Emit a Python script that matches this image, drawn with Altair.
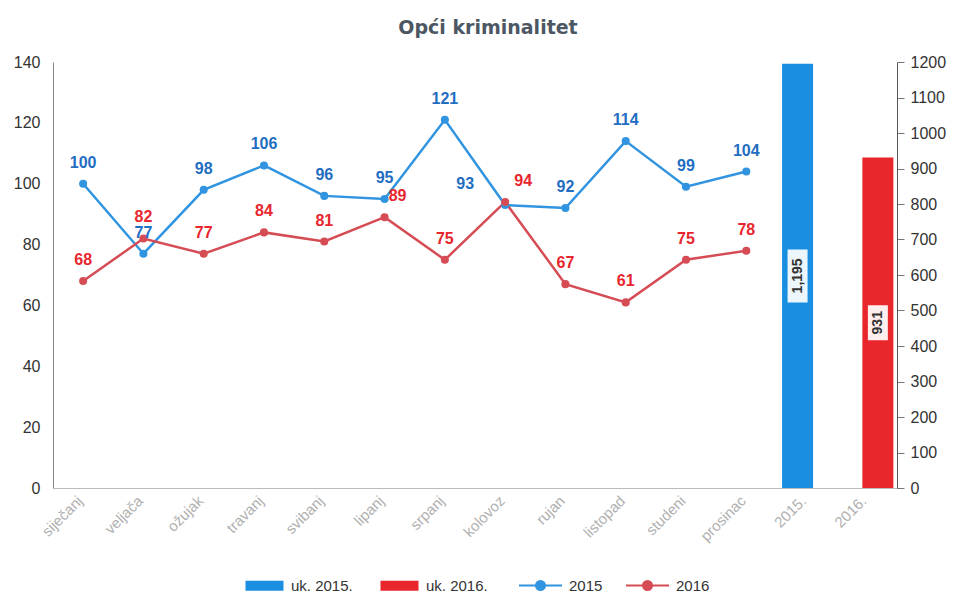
import altair as alt
import pandas as pd

months = ["siječanj", "veljača", "ožujak", "travanj", "svibanj", "lipanj",
          "srpanj", "kolovoz", "rujan", "listopad", "studeni", "prosinac"]
v2015 = [100, 77, 98, 106, 96, 95, 121, 93, 92, 114, 99, 104]
v2016 = [68, 82, 77, 84, 81, 89, 75, 94, 67, 61, 75, 78]
total_cats = ["2015.", "2016."]
total_series = ["uk. 2015.", "uk. 2016."]
totals = [1195, 931]

domain = months + total_cats
FONT = "Liberation Sans"

# label nudges (style only): (series, month) -> dx
nudges = {("2015", "kolovoz"): -40, ("2016", "kolovoz"): 18, ("2016", "lipanj"): 13}

lines_df = pd.DataFrame(
    [{"cat": m, "value": v, "series": "2015"} for m, v in zip(months, v2015)]
    + [{"cat": m, "value": v, "series": "2016"} for m, v in zip(months, v2016)]
)
lines_df["nudge"] = [nudges.get((s, c), 0) for s, c in zip(lines_df["series"], lines_df["cat"])]
bars_df = pd.DataFrame({"cat": total_cats, "total": totals, "series": total_series})

xscale = alt.Scale(domain=domain, paddingInner=0, paddingOuter=0)
xaxis = alt.Axis(title=None, labelAngle=-45, labelAlign="right", labelBaseline="middle",
                 labelColor="#b0b0b0", labelFontSize=15, labelOffset=-3,
                 labelFont=FONT, ticks=False, domainColor="#bbbbbb", labelPadding=10)
X = alt.X("cat:N", scale=xscale, sort=domain, axis=xaxis)

line_col = alt.Scale(domain=["2015", "2016"], range=["#3094e0", "#d64c55"])
text_col = alt.Scale(domain=["2015", "2016"], range=["#1f6ec2", "#e8262e"])
line_sym = ("M-4.3,0H4.3 "
            "M0.9,0A0.9,0.9 0 1,1 -0.9,0A0.9,0.9 0 1,1 0.9,0 "
            "M0.6,0A0.6,0.6 0 1,1 -0.6,0A0.6,0.6 0 1,1 0.6,0 "
            "M0.3,0A0.3,0.3 0 1,1 -0.3,0A0.3,0.3 0 1,1 0.3,0 "
            "M0.1,0A0.1,0.1 0 1,1 -0.1,0A0.1,0.1 0 1,1 0.1,0")
yleft = alt.Y("value:Q", scale=alt.Scale(domain=[0, 140]),
              axis=alt.Axis(title=None, values=list(range(0, 141, 20)), grid=False,
                            ticks=False, domainColor="#888888", labelFontSize=16,
                            labelFont=FONT, labelColor="#333333", labelPadding=13))

base_l = alt.Chart(lines_df)
lines = base_l.mark_line(strokeWidth=2.5, point=alt.OverlayMarkDef(size=65, filled=True)).encode(
    x=X, y=yleft,
    color=alt.Color("series:N", scale=line_col,
                    legend=alt.Legend(title=None, orient="none", direction="horizontal",
                                      legendX=480, legendY=516, symbolType=line_sym,
                                      symbolSize=100, symbolStrokeWidth=2, labelOffset=21,
                                      labelFontSize=15, labelFont=FONT, labelColor="#333333",
                                      columnPadding=19)),
)
label_layers = []
for dx in sorted(set(lines_df["nudge"])):
    label_layers.append(
        base_l.transform_filter(alt.datum.nudge == dx)
        .mark_text(dy=-21, dx=dx, fontSize=16, fontWeight="bold", font=FONT)
        .encode(x=X, y=yleft, text="value:Q",
                fill=alt.Fill("series:N", scale=text_col, legend=None))
    )
left_layer = alt.layer(lines, *label_layers)

bar_col = alt.Scale(domain=total_series, range=["#1a8fe2", "#e8262b"])
bar_sym = "M-3.8,-1H3.8V1H-3.8Z"
right_axis = alt.Axis(title=None, orient="right", values=list(range(0, 1201, 100)),
                      format="d", grid=False, tickSize=7, domainColor="#555555",
                      tickColor="#777777", labelFontSize=16, labelFont=FONT,
                      labelColor="#333333", labelPadding=6)
yscale_r = alt.Scale(domain=[0, 1200])

base_b = alt.Chart(bars_df).transform_calculate(half="datum.total / 2")
offsets = {"uk. 2015.": -9, "uk. 2016.": 11}
bar_layers = []
for s, v in zip(total_series, totals):
    off = offsets[s]
    b = base_b.transform_filter(alt.datum.series == s)
    bar_layers.append(b.mark_bar(width=31, xOffset=off).encode(
        x=X, y=alt.Y("total:Q", scale=yscale_r, axis=right_axis),
        color=alt.Color("series:N", scale=bar_col,
                        legend=alt.Legend(title=None, orient="none", direction="horizontal",
                                          legendX=204, legendY=516, symbolType=bar_sym,
                                          symbolSize=100, labelOffset=19, labelFontSize=15,
                                          labelFont=FONT, labelColor="#333333",
                                          columnPadding=27)),
    ))
    txt = f"{v:,}"
    h = 9 * len(txt) + 8
    hw = 10 / (h / 2)
    box = f"M-{hw:.3f},-1H{hw:.3f}V1H-{hw:.3f}Z"
    bar_layers.append(b.mark_point(shape=box, size=h * h, filled=True, color="white",
                                   opacity=0.92, xOffset=off).encode(
        x=X, y=alt.Y("half:Q", scale=yscale_r, axis=right_axis)))
    bar_layers.append(b.mark_text(angle=270, fontSize=14, fontWeight="bold", font=FONT,
                                  color="#333333", xOffset=off).encode(
        x=X, y=alt.Y("half:Q", scale=yscale_r, axis=right_axis),
        text=alt.Text("total:Q", format=",")))
right_layer = alt.layer(*bar_layers)

chart = alt.layer(left_layer, right_layer).resolve_scale(
    y="independent", color="independent", fill="independent"
).properties(
    width=844, height=426,
    padding={"left": 45, "top": 54, "right": 53, "bottom": 106},
    autosize=alt.AutoSizeParams(type="none"),
    title=alt.TitleParams("Opći kriminalitet", fontSize=19, fontWeight="bold",
                          color="#4d5763", font="DejaVu Sans", offset=16,
                          anchor="middle", dx=13),
).configure_view(stroke=None)

chart.save("out.html", embed_options={"renderer": "svg", "actions": False})
